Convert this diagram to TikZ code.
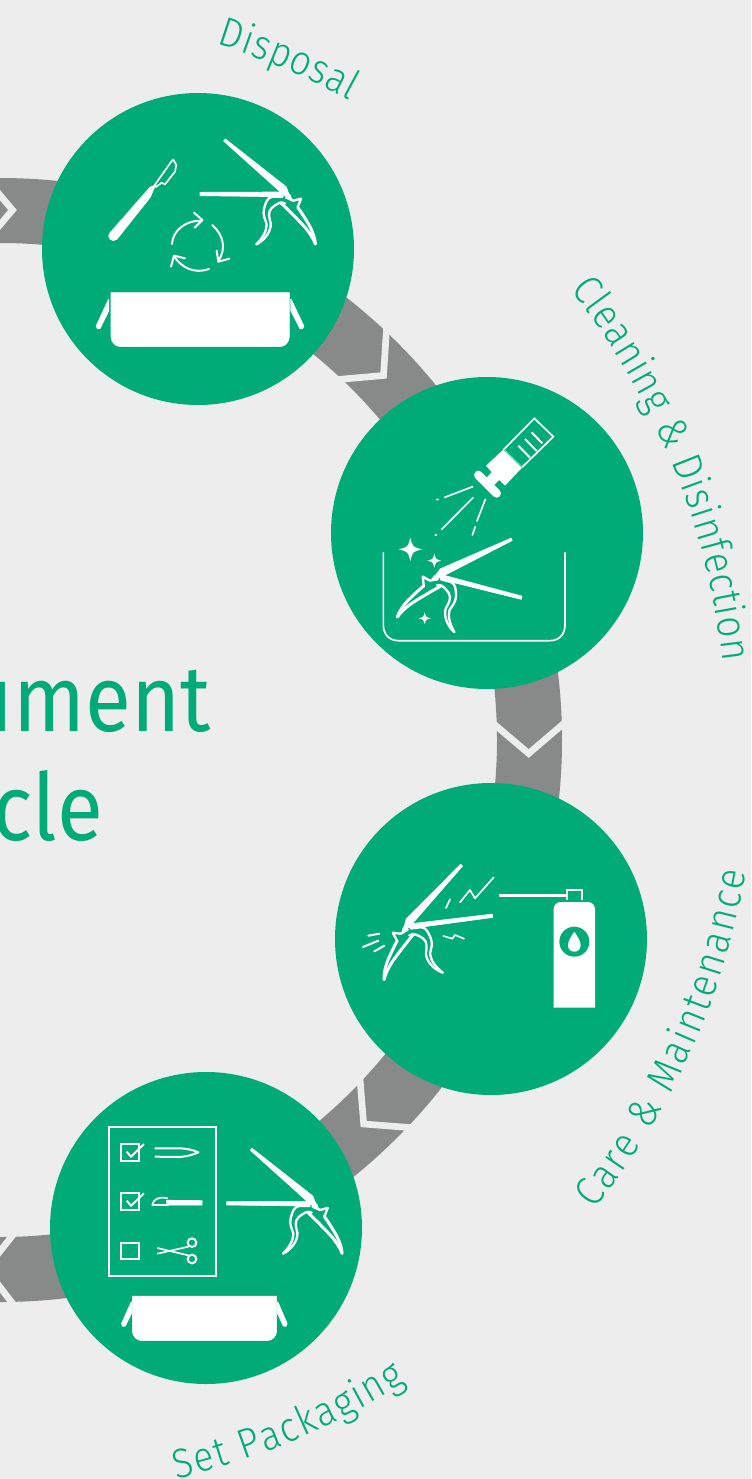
\documentclass[tikz,border=0pt]{standalone}
\usepackage{fontspec}
\usetikzlibrary{decorations.text}
\newfontfamily\labelfont[FakeStretch=0.9]{Fira Sans Light}
\newfontfamily\bigfont[FakeStretch=0.9]{Fira Sans}
\definecolor{grn}{HTML}{00AB78}
\definecolor{pagebg}{HTML}{EDEDED}
\definecolor{bandgrey}{HTML}{878A88}
\newcommand{\lblf}{\labelfont\fontsize{31}{31}\selectfont\color{grn}}
\tikzset{
  stage/.style={circle,fill=grn,draw=none,minimum size=234pt,inner sep=0pt},
  chevron/.style={draw=pagebg,line width=5pt,miter limit=10,line join=miter},
  wl/.style={draw=white,line width=#1*0.25pt,line cap=round,line join=round},
  wl/.default=5,
  wm/.style={draw=white,line width=#1*0.25pt,line cap=butt,line join=miter},
  zoomed/.style={x=0.25pt,y=-0.25pt},
  biglabel/.style={font=\bigfont\fontsize{70}{70}\selectfont,text=grn,anchor=base east,inner sep=0pt},
}
% rongeur, coordinates from the pivot
\newcommand{\rongeur}{%
 \begin{scope}[zoomed,shift={(-740,-318)}]
  \fill[white,draw=white,line width=.5pt,line join=round] (551,153) -- (556,147) -- (738,290) -- (753,328) -- (718,303) -- cycle;
  \fill[white,draw=white,line width=.5pt,line join=round] (480,307) -- (722,306) -- (745,312) -- (722,320) -- (480,317) -- cycle;
  \fill[white] (735,300) -- (752,315) -- (758,335) -- (735,325) -- cycle;
  \draw[wl=7] (728,320) -- (697,320) .. controls (682,322) and (677,338) .. (672,356) .. controls (667,376) and (676,388) .. (680,403) .. controls (680,425) and (665,447) .. (649,463);
  \draw[wl=7] (735,340) .. controls (722,334) and (712,340) .. (695,354) .. controls (682,366) and (688,385) .. (692,400) .. controls (694,425) and (672,452) .. (649,463);
  \draw[wl=7] (742,322) -- (760,332) -- (783,326) -- (773,352);
  \draw[wl=9] (773,352) .. controls (785,368) and (795,385) .. (803,398) .. controls (812,412) and (825,440) .. (826,462);
  \draw[wl=9] (722,338) .. controls (745,360) and (775,390) .. (795,412) .. controls (808,428) and (820,445) .. (826,462);
 \end{scope}}
\newcommand{\sparkle}[3]{\fill[white] (#1,#2-#3) .. controls (#1+.2*#3,#2-.2*#3) .. (#1+#3,#2) .. controls (#1+.2*#3,#2+.2*#3) .. (#1,#2+#3) .. controls (#1-.2*#3,#2+.2*#3) .. (#1-#3,#2) .. controls (#1-.2*#3,#2-.2*#3) .. cycle;}
\begin{document}
\begin{tikzpicture}[x=0.75pt,y=-0.75pt]
\useasboundingbox (0,0) rectangle (751,1479);
\fill[pagebg] (0,0) rectangle (751,1479);
\clip (0,0) rectangle (751,1479);
% ring
\draw[bandgrey,line width=48.75pt] (0,740) circle[radius=529.5];
% chevrons
\draw[chevron] (386.8,325) -- (383.5,375.5) -- (332,380);
\draw[chevron] (488,719) -- (528.7,753.5) -- (569,719);
\draw[chevron] (359.4,1072) -- (363.7,1124) -- (416,1128);
\draw[chevron] (-12,181) -- (12.5,210) -- (-12,239);
\draw[chevron] (20,1226) -- (-14,1269) -- (20,1313);
% stages
\node[stage] (disposal) at (198,249) {};
\node[stage] (cleaning) at (487,533) {};
\node[stage] (care) at (491,939) {};
\node[stage] (packaging) at (206,1228) {};
% title
\node[biglabel] (titleA) at (211,731) {ument};
\node[biglabel] (titleB) at (103,840) {cle};
% curved labels
\begin{scope}[shift={(0,740)},x=.75pt,y=.75pt]
 \path[decorate,decoration={text along path,text align=fit to path,text={|\lblf|Disposal}}] (72.7:729) arc[start angle=72.7,end angle=61.3,radius=729];
 \path[decorate,decoration={text along path,text align=fit to path,text={|\lblf|Cleaning {\&} Disinfection}}] (38.3:727) arc[start angle=38.3,end angle=6.2,radius=727];
 \path[decorate,decoration={text along path,text align=fit to path,text={|\lblf|Care {\&} Maintenance}}] (-38.3:758) arc[start angle=-38.3,end angle=-10,radius=758];
 \path[decorate,decoration={text along path,text align=fit to path,text={|\lblf|Set Packaging}}] (-76.6:760) arc[start angle=-76.6,end angle=-57.7,radius=760];
\end{scope}
% disposal icon
\begin{scope}[shift={(40,90)},zoomed]
 \fill[white,draw=white,line join=round] (213,608) -- (213,740) .. controls (213,757) and (226,770) .. (243,770) -- (718,770) .. controls (735,770) and (748,757) .. (748,740) -- (748,608) -- cycle;
 \fill[white,draw=white,line width=.8pt,line join=round] (206,628) -- (169,708) -- (173,716) -- (180,715) -- (206,662) -- cycle;
 \fill[white,draw=white,line width=.8pt,line join=round] (753,628) -- (791,708) -- (787,716) -- (780,715) -- (753,662) -- cycle;
 % scalpel
 \fill[white] (220,438) circle[radius=15];
 \fill[white] (209,428) -- (330,290) -- (348,284) -- (332,322) -- (231,449) -- cycle;
 \draw[wm=5,line join=round] (342,288) -- (396,212) -- (400,209) -- (409,225) -- (405,245) -- (375,283) -- (365,278) -- (346,292);
 % recycling
 \draw[wl=6] (396,462) .. controls (398,420) and (440,390) .. (485,392);
 \draw[wl=6] (462,368) -- (487,390) -- (464,413);
 \draw[wl=6] (517,405) .. controls (550,435) and (560,475) .. (535,513);
 \draw[wl=6] (530,482) -- (535,515) -- (568,506);
 \draw[wl=6] (507,537) .. controls (465,552) and (425,535) .. (402,498);
 \draw[wl=6] (393,530) -- (402,497) -- (435,505);
\end{scope}
\begin{scope}[shift={(286.7,196)}]\rongeur\end{scope}
% cleaning icon
\begin{scope}[shift={(330,375)},zoomed]
 \draw[wm=5] (160,532) -- (160,750) .. controls (160,778) and (178,797) .. (205,797) -- (660,797) .. controls (687,797) and (705,778) .. (705,750) -- (705,532);
 \fill[white] (468,272) -- (522,222) -- (578,276) -- (525,332) -- (508,315) -- (492,330) -- (470,308) -- (485,291) -- cycle;
 \draw[white,line width=6.5pt,line cap=round] (445,300) -- (500,355);
 \draw[wm=5] (520,225) -- (613,130) -- (670,185) -- (575,278);
 \draw[grn,line width=.4pt] (522,224) -- (577,278);
 \draw[wm=6] (565,212) -- (600,248);
 \draw[wm=6] (585,192) -- (620,228);
 \draw[wm=6] (605,172) -- (637,205);
 \draw[wl=5] (428,335) -- (344,367);
 \draw[wl=5] (320,374) -- (325,373);
 \draw[wl=5] (429,368) -- (335,463);
 \draw[wl=5] (316,481) -- (319,479);
 \draw[wl=5] (466,373) -- (441,438);
 \draw[wl=5] (436,455) -- (427,480);
 \sparkle{241}{523}{35}
 \sparkle{313}{557}{21}
 \sparkle{284}{730}{18}
\end{scope}
\begin{scope}[shift={(437.3,577.7)},rotate=-14.7,xscale=-1]\rongeur\end{scope}
% care icon
\begin{scope}[shift={(335,820)},zoomed]
 \fill[white] (656,563) -- (656,268) .. controls (656,255) and (665,246) .. (678,246) -- (758,246) .. controls (771,246) and (780,255) .. (780,268) -- (780,563) -- cycle;
 \fill[grn] (718,365) circle[radius=45];
 \fill[white] (718,335) .. controls (730,352) and (737,365) .. (737,376) .. controls (737,388) and (728,395) .. (718,395) .. controls (708,395) and (699,388) .. (699,376) .. controls (699,365) and (706,352) .. (718,335) -- cycle;
 \draw[wm=6] (697,240) -- (697,211) -- (742,211) -- (742,240);
 \draw[wm=9] (492,227) -- (697,227);
 \draw[wl=6] (100,347) -- (133,341);
 \draw[wl=6] (84,381) -- (130,362);
 \draw[wl=6] (118,394) -- (148,377);
 \draw[wl=5] (375,247) -- (405,210) -- (420,235) -- (476,172);
 \draw[wl=5] (333,264) -- (345,238);
 \draw[wl=5] (325,348) -- (352,356) -- (360,345) -- (387,356);
\end{scope}
\begin{scope}[shift={(406.7,928.3)},rotate=7,xscale=-1]\rongeur\end{scope}
% packaging icon
\begin{scope}[shift={(50,1100)},zoomed]
 \fill[white,draw=white,line join=round] (247,588) -- (247,692) .. controls (247,709) and (260,722) .. (277,722) -- (650,722) .. controls (667,722) and (680,709) .. (680,692) -- (680,588) -- cycle;
 \fill[white,draw=white,line width=.8pt,line join=round] (244,606) -- (215,671) -- (219,679) -- (226,677) -- (244,640) -- cycle;
 \fill[white,draw=white,line width=.8pt,line join=round] (683,606) -- (711,671) -- (707,679) -- (700,677) -- (683,640) -- cycle;
 \draw[wm=6] (177,82) rectangle (497,527);
 \draw[wm=6] (214,133) rectangle (266,183);
 \draw[wm=6] (214,280) rectangle (266,330);
 \draw[wm=6] (214,428) rectangle (266,478);
 \draw[wm=6] (230,155) -- (243,170) -- (282,132);
 \draw[wm=6] (230,302) -- (243,317) -- (282,280);
 \draw[wl=6] (316,145) -- (385,145) .. controls (410,145) and (430,150) .. (445,157) .. controls (430,164) and (410,170) .. (385,171) -- (316,170);
 \draw[wl=5] (307,314) .. controls (310,298) and (328,288) .. (352,295);
 \draw[wl=5] (307,314) -- (355,314);
 \fill[white,draw=white,line width=.6pt,line join=round] (350,301) -- (456,302) -- (456,315) -- (350,315) -- cycle;
 \draw[wm=5] (322,444) -- (415,466);
 \draw[wm=5] (322,461) -- (415,440);
 \draw[wm=6] (426,428) circle[radius=13];
 \draw[wm=6] (426,477) circle[radius=13];
\end{scope}
\begin{scope}[shift={(313.4,1205.3)}]\rongeur\end{scope}
\end{tikzpicture}
\end{document}
